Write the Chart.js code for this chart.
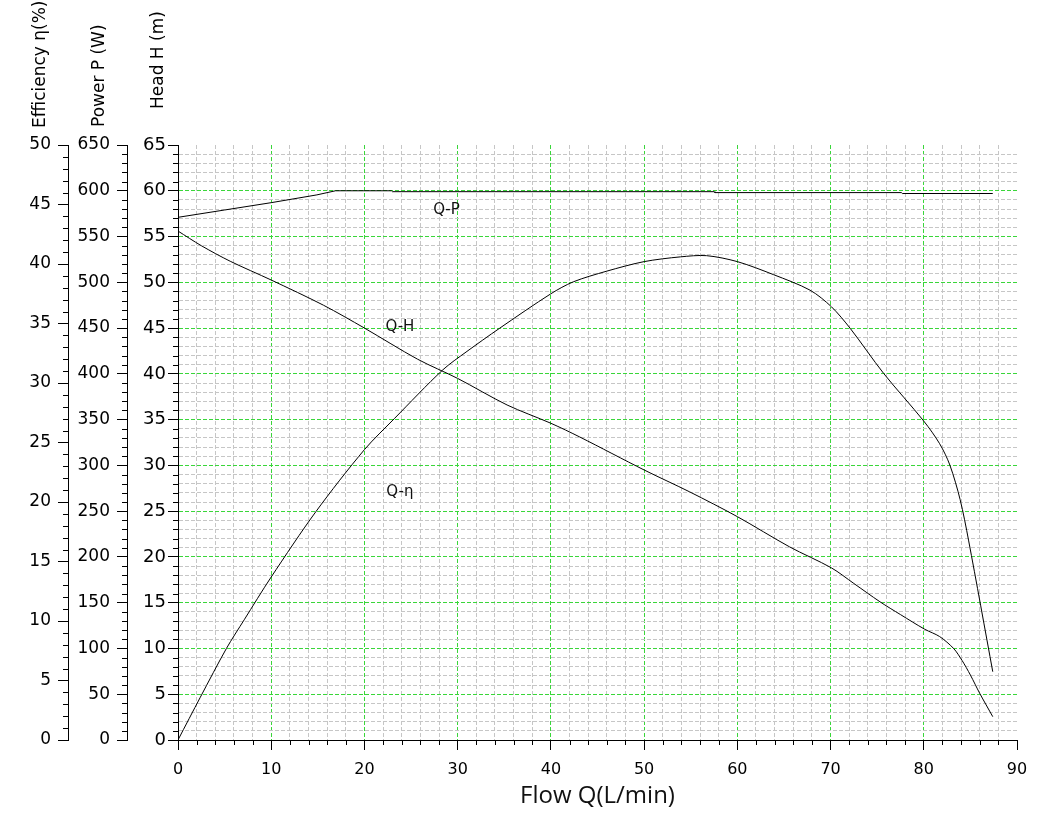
<!DOCTYPE html>
<html>
<head>
<meta charset="utf-8">
<title>Pump performance curves</title>
<script src="https://cdn.jsdelivr.net/npm/chart.js@4.4.1/dist/chart.umd.min.js"></script>
<style>
  html, body { margin: 0; padding: 0; background: #fff; }
  #chart_pump { display: block; }
</style>
</head>
<body>
<canvas id="chart_pump" width="1053" height="832"></canvas>
<script>
// Q-H curve: flow (L/min) and head (m)
var flowHead = [0, 2.5, 5.6, 10, 15.6, 20, 25.7, 30, 35.3, 40, 43.1, 50, 54.9, 60, 65.6, 70.1, 72.5, 75.3, 77.5, 80.1, 81.7, 83.2, 84.1, 85, 86, 87.4];
var headValues = [55.6, 54.0, 52.3, 50.25, 47.5, 45, 41.6, 39.5, 36.6, 34.6, 33.1, 29.5, 27.1, 24.4, 21.1, 18.8, 17.1, 15.1, 13.7, 12.1, 11.3, 10.0, 8.7, 7.1, 5.1, 2.55];

// Q-P curve: flow (L/min) and power (W)
var flowPower = [0, 5, 10, 14.9, 16.9, 22.9, 23, 57.5, 57.6, 77.6, 77.7, 87.4];
var powerValues = [571, 579, 587, 595.5, 600, 600, 599, 599, 598, 598, 597, 597];

// Q-eta curve: flow (L/min) and efficiency (%)
var flowEff = [0, 2.4, 5.2, 7.1, 10, 14.8, 20, 23.2, 28.4, 30.9, 34.5, 40, 42.4, 46, 50, 53.9, 56.7, 60, 63.9, 67.8, 70.1, 72.1, 75.7, 80, 81.7, 82.8, 83.9, 84.8, 87.4];
var effValues = [0, 3.6, 7.7, 10.1, 13.7, 19.2, 24.4, 27.0, 31.1, 32.6, 34.6, 37.5, 38.5, 39.4, 40.2, 40.6, 40.7, 40.2, 39.1, 37.8, 36.4, 34.6, 30.8, 26.8, 24.9, 23.1, 20.2, 16.8, 5.74];

// labelled tick values of each axis
var flowTicks = [0, 10, 20, 30, 40, 50, 60, 70, 80, 90];
var headTicks = [0, 5, 10, 15, 20, 25, 30, 35, 40, 45, 50, 55, 60, 65];
var powerTicks = [0, 50, 100, 150, 200, 250, 300, 350, 400, 450, 500, 550, 600, 650];
var effTicks = [0, 5, 10, 15, 20, 25, 30, 35, 40, 45, 50];

var curveNames = ['Q-H', 'Q-P', 'Q-η'];

function toPoints(xs, ys) {
    var pts = [];
    for (var i = 0; i < xs.length; i++) {
        pts.push({x: xs[i], y: ys[i]});
    }
    return pts;
}

function isMajor(list, v) {
    return list.indexOf(Math.round(v * 1000) / 1000) >= 0;
}

var GREEN = '#3ad63a';
var GREY = '#c6c6c6';

// grid colour for the chart area: green on labelled values, grey otherwise,
// nothing on the outer edges
function gridColor(list) {
    return function(c) {
        var v = c.tick.value;
        if (v === list[0] || v === list[list.length - 1]) return 'rgba(0,0,0,0)';
        return isMajor(list, v) ? GREEN : GREY;
    };
}

function tickColor(list) {
    return function(c) {
        return isMajor(list, c.tick.value) ? '#000' : 'rgba(0,0,0,0)';
    };
}

function labelFor(list) {
    return function(v) {
        return isMajor(list, v) ? String(v) : '';
    };
}

// short ticks between the labelled ones, and the titles above the y axes
var axisExtras = {
    id: 'axisExtras',
    afterDraw: function(chart, args, opts) {
        var ctx = chart.ctx;
        ctx.save();
        ctx.strokeStyle = '#000';
        ctx.lineWidth = 1;
        ctx.beginPath();
        [['y', headTicks], ['yP', powerTicks], ['yE', effTicks]].forEach(function(p) {
            var s = chart.scales[p[0]];
            s.ticks.forEach(function(t) {
                if (isMajor(p[1], t.value)) return;
                var py = Math.round(s.getPixelForValue(t.value)) + 0.5;
                ctx.moveTo(s.right - opts.minorLength, py);
                ctx.lineTo(s.right, py);
            });
        });
        var sx = chart.scales.x;
        sx.ticks.forEach(function(t) {
            if (isMajor(flowTicks, t.value)) return;
            var px = Math.round(sx.getPixelForValue(t.value)) + 0.5;
            ctx.moveTo(px, sx.top);
            ctx.lineTo(px, sx.top + opts.minorLength);
        });
        ctx.stroke();

        ctx.fillStyle = '#000';
        ctx.font = opts.titleFont;
        ctx.textAlign = 'left';
        ctx.textBaseline = 'middle';
        opts.titles.forEach(function(t) {
            var s = chart.scales[t.scale];
            ctx.save();
            ctx.translate(s.right - t.dx, t.bottom);
            ctx.rotate(-Math.PI / 2);
            ctx.fillText(t.text, 0, 0);
            ctx.restore();
        });
        ctx.restore();
    },
    afterDatasetsDraw: function(chart, args, opts) {
        var ctx = chart.ctx;
        ctx.save();
        ctx.fillStyle = '#111';
        ctx.font = opts.tagFont;
        ctx.textAlign = 'center';
        ctx.textBaseline = 'middle';
        opts.tags.forEach(function(t, i) {
            var px = chart.scales.x.getPixelForValue(t.x);
            var py = chart.scales.y.getPixelForValue(t.y);
            ctx.fillText(curveNames[i], px, py);
        });
        ctx.restore();
    }
};

var ctxPump = document.getElementById('chart_pump').getContext('2d');
var chartPump = new Chart(ctxPump, {
    type: 'line',
    data: {
        datasets: [{
            label: curveNames[0],
            data: toPoints(flowHead, headValues),
            yAxisID: 'y',
            borderColor: '#000',
            borderWidth: 1,
            pointRadius: 0,
            tension: 0.3
        }, {
            label: curveNames[1],
            data: toPoints(flowPower, powerValues),
            yAxisID: 'yP',
            borderColor: '#000',
            borderWidth: 1,
            pointRadius: 0,
            tension: 0
        }, {
            label: curveNames[2],
            data: toPoints(flowEff, effValues),
            yAxisID: 'yE',
            borderColor: '#000',
            borderWidth: 1,
            pointRadius: 0,
            tension: 0.3
        }]
    },
    options: {
        responsive: false,
        animation: false,
        events: [],
        layout: { padding: { top: 145, right: 36, left: 0, bottom: 0 } },
        plugins: {
            legend: { display: false },
            tooltip: { enabled: false },
            axisExtras: {
                minorLength: 5,
                titleFont: '17px "DejaVu Sans"',
                tagFont: '15px "DejaVu Sans"',
                titles: [
                    { scale: 'yE', text: 'Efficiency η(%)', dx: 27.5, bottom: 128 },
                    { scale: 'yP', text: 'Power P (W)', dx: 27, bottom: 127 },
                    { scale: 'y', text: 'Head H (m)', dx: 19, bottom: 109 }
                ],
                tags: [
                    { x: 23.8, y: 45.1 },
                    { x: 28.8, y: 57.9 },
                    { x: 23.8, y: 27.1 }
                ]
            }
        },
        scales: {
            x: {
                type: 'linear',
                position: 'bottom',
                min: flowTicks[0],
                max: flowTicks[flowTicks.length - 1],
                afterFit: function(s) { s.height = 92; },
                ticks: {
                    stepSize: 2,
                    autoSkip: false,
                    maxRotation: 0,
                    padding: 10,
                    color: '#000',
                    font: { family: 'DejaVu Sans', size: 16 },
                    callback: labelFor(flowTicks)
                },
                grid: {
                    color: gridColor(flowTicks),
                    tickColor: tickColor(flowTicks),
                    tickLength: 10,
                    lineWidth: 1
                },
                border: { color: '#000', width: 1, dash: [4, 2] },
                title: {
                    display: true,
                    text: 'Flow Q(L/min)',
                    color: '#111',
                    font: { family: 'Open Sans', size: 24 },
                    padding: { top: 4, bottom: 21 }
                }
            },
            y: {
                type: 'linear',
                position: 'left',
                weight: 0,
                min: headTicks[0],
                max: headTicks[headTicks.length - 1],
                afterFit: function(s) { s.width = 51; },
                ticks: {
                    stepSize: 1,
                    autoSkip: false,
                    padding: 2,
                    color: '#000',
                    font: { family: 'DejaVu Sans', size: 18 },
                    callback: labelFor(headTicks)
                },
                grid: {
                    color: gridColor(headTicks),
                    tickColor: tickColor(headTicks),
                    tickLength: 10,
                    lineWidth: 1
                },
                border: { color: '#000', width: 1, dash: [4, 2] }
            },
            yP: {
                type: 'linear',
                position: 'left',
                weight: 1,
                min: powerTicks[0],
                max: powerTicks[powerTicks.length - 1],
                afterFit: function(s) { s.width = 59; },
                ticks: {
                    stepSize: 10,
                    autoSkip: false,
                    padding: 7,
                    color: '#000',
                    font: { family: 'DejaVu Sans', size: 17 },
                    callback: labelFor(powerTicks)
                },
                grid: {
                    drawOnChartArea: false,
                    tickColor: tickColor(powerTicks),
                    tickLength: 10
                },
                border: { color: '#000', width: 1 }
            },
            yE: {
                type: 'linear',
                position: 'left',
                weight: 2,
                min: effTicks[0],
                max: effTicks[effTicks.length - 1],
                afterFit: function(s) { s.width = 68; },
                ticks: {
                    stepSize: 1,
                    autoSkip: false,
                    padding: 7,
                    color: '#000',
                    font: { family: 'DejaVu Sans', size: 17 },
                    callback: labelFor(effTicks)
                },
                grid: {
                    drawOnChartArea: false,
                    tickColor: tickColor(effTicks),
                    tickLength: 10
                },
                border: { color: '#000', width: 1 }
            }
        }
    },
    plugins: [axisExtras]
});
</script>
</body>
</html>
